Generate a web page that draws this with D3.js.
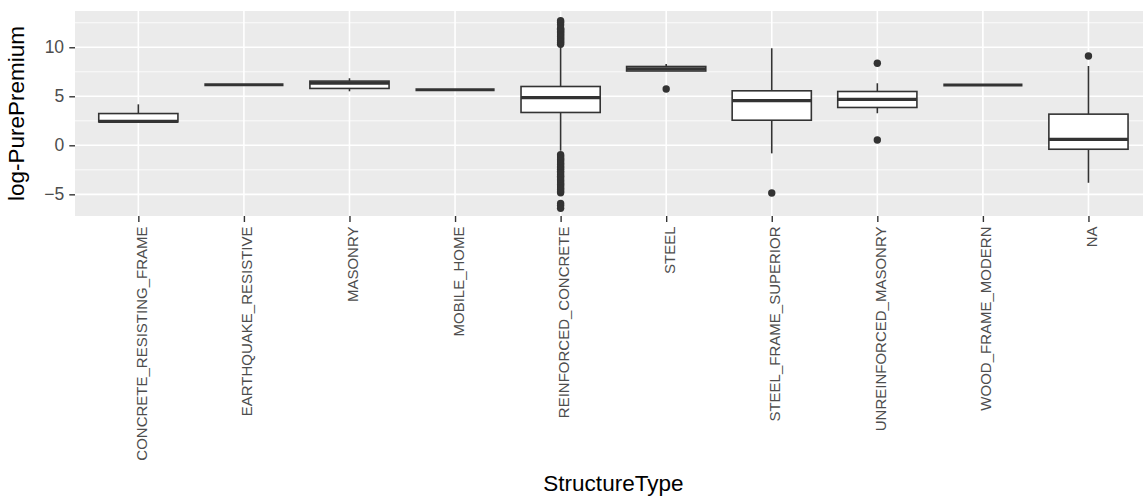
<!DOCTYPE html>
<html>
<head>
<meta charset="utf-8">
<script src="https://cdn.jsdelivr.net/npm/d3@7"></script>
<style>
  html, body { margin: 0; padding: 0; background: #ffffff; }
  svg { display: block; font-family: "Liberation Sans", Arial, sans-serif; }
</style>
</head>
<body>
<svg id="chart" width="1143" height="496"></svg>
<script>
// Structure types on the x axis
const categories = [
  "CONCRETE_RESISTING_FRAME", "EARTHQUAKE_RESISTIVE", "MASONRY", "MOBILE_HOME",
  "REINFORCED_CONCRETE", "STEEL", "STEEL_FRAME_SUPERIOR", "UNREINFORCED_MASONRY",
  "WOOD_FRAME_MODERN", "NA"
];

// Five-number summaries of log-PurePremium per structure type
const whiskerLow  = [2.39, 6.18, 5.51, 5.67, -0.55, 7.58, -0.82, 3.27, 6.15, -3.82];
const lowerQ      = [2.39, 6.18, 5.80, 5.67,  3.35, 7.58,  2.56, 3.86, 6.15, -0.40];
const medianVal   = [2.45, 6.18, 6.35, 5.67,  4.86, 7.80,  4.55, 4.69, 6.15,  0.61];
const upperQ      = [3.24, 6.18, 6.55, 5.67,  6.00, 8.04,  5.56, 5.49, 6.15,  3.18];
const whiskerHigh = [4.18, 6.18, 6.84, 5.67, 10.00, 8.30,  9.90, 6.33, 6.15,  8.09];

// Points beyond the whiskers
const outliers = [
  [],
  [],
  [],
  [],
  [10.30, 10.45, 10.55, 10.70, 10.85, 10.95, 11.10, 11.25, 11.35, 11.50, 11.62,
   11.75, 11.85, 11.95, 12.30, 12.55, 12.70,
   -0.95, -1.10, -1.30, -1.45, -1.60, -1.80, -1.95, -2.15, -2.30, -2.45, -2.65,
   -2.80, -3.00, -3.15, -3.30, -3.50, -3.65, -3.85, -4.00, -4.15, -4.35, -4.50,
   -4.70, -4.85, -5.93, -6.15, -6.43],
  [5.74],
  [-4.86],
  [8.37, 0.54],
  [],
  [9.11]
];

const yTicks = [-5, 0, 5, 10];
const yMinor = [-2.5, 2.5, 7.5, 12.5];

const svg = d3.select("#chart");

// Plotting panel
const panel = { left: 75, top: 11, right: 1151.8, bottom: 216 };

const x = d3.scalePoint()
  .domain(categories)
  .range([panel.left, panel.right])
  .padding(0.6);

const y = d3.scaleLinear()
  .domain([-7.21, 13.70])
  .range([panel.bottom, panel.top]);

const boxW = x.step() * 0.75;
const ink = "#333333";

// Panel background
svg.append("rect")
  .attr("x", panel.left).attr("y", panel.top)
  .attr("width", panel.right - panel.left)
  .attr("height", panel.bottom - panel.top)
  .attr("fill", "#EBEBEB");

const grid = svg.append("g");
grid.selectAll("line.minor").data(yMinor).join("line")
  .attr("class", "minor")
  .attr("x1", panel.left).attr("x2", panel.right)
  .attr("y1", d => y(d)).attr("y2", d => y(d))
  .attr("stroke", "#ffffff").attr("stroke-width", 0.8);
grid.selectAll("line.major-y").data(yTicks).join("line")
  .attr("class", "major-y")
  .attr("x1", panel.left).attr("x2", panel.right)
  .attr("y1", d => y(d)).attr("y2", d => y(d))
  .attr("stroke", "#ffffff").attr("stroke-width", 1.6);
grid.selectAll("line.major-x").data(categories).join("line")
  .attr("class", "major-x")
  .attr("x1", d => x(d)).attr("x2", d => x(d))
  .attr("y1", panel.top).attr("y2", panel.bottom)
  .attr("stroke", "#ffffff").attr("stroke-width", 1.6);

// Box plots
const boxes = svg.append("g").selectAll("g.box")
  .data(categories.map((c, i) => ({
    cat: c, lo: whiskerLow[i], q1: lowerQ[i], med: medianVal[i],
    q3: upperQ[i], hi: whiskerHigh[i], out: outliers[i]
  })))
  .join("g").attr("class", "box");

boxes.append("line")
  .attr("x1", d => x(d.cat)).attr("x2", d => x(d.cat))
  .attr("y1", d => y(d.q3)).attr("y2", d => y(d.hi))
  .attr("stroke", ink).attr("stroke-width", 1.6);
boxes.append("line")
  .attr("x1", d => x(d.cat)).attr("x2", d => x(d.cat))
  .attr("y1", d => y(d.q1)).attr("y2", d => y(d.lo))
  .attr("stroke", ink).attr("stroke-width", 1.6);
boxes.append("rect")
  .attr("x", d => x(d.cat) - boxW / 2)
  .attr("width", boxW)
  .attr("y", d => y(d.q3))
  .attr("height", d => Math.max(0, y(d.q1) - y(d.q3)))
  .attr("fill", "#ffffff")
  .attr("stroke", ink).attr("stroke-width", 1.6);
boxes.append("line")
  .attr("x1", d => x(d.cat) - boxW / 2).attr("x2", d => x(d.cat) + boxW / 2)
  .attr("y1", d => y(d.med)).attr("y2", d => y(d.med))
  .attr("stroke", ink).attr("stroke-width", 3.2);
boxes.selectAll("circle")
  .data(d => d.out.map(v => ({ cat: d.cat, v })))
  .join("circle")
  .attr("cx", d => x(d.cat))
  .attr("cy", d => y(d.v))
  .attr("r", 3.7)
  .attr("fill", ink);

// Y axis
const yAxis = svg.append("g")
  .attr("transform", `translate(${panel.left},0)`)
  .call(d3.axisLeft(y).tickValues(yTicks).tickSize(5.7).tickPadding(5.2));
yAxis.select(".domain").remove();
yAxis.selectAll(".tick line").attr("stroke", ink).attr("stroke-width", 1.4);
yAxis.selectAll(".tick text")
  .attr("fill", "#4D4D4D")
  .style("font-size", "17.5px")
  .style("font-family", "'Liberation Sans', Arial, sans-serif");

// X axis with vertical labels
const xAxis = svg.append("g")
  .attr("transform", `translate(0,${panel.bottom})`)
  .call(d3.axisBottom(x).tickSize(6).tickPadding(0));
xAxis.select(".domain").remove();
xAxis.selectAll(".tick line").attr("stroke", ink).attr("stroke-width", 1.4);
xAxis.selectAll(".tick text")
  .attr("fill", "#4D4D4D")
  .attr("y", 0).attr("dy", null)
  .attr("transform", "translate(8,10.5) rotate(-90)")
  .attr("text-anchor", "end")
  .style("font-size", "15px")
  .style("font-family", "'Liberation Sans', Arial, sans-serif");

// Axis titles
svg.append("text")
  .attr("transform", `translate(23.6,${(panel.top + panel.bottom) / 2}) rotate(-90)`)
  .attr("text-anchor", "middle")
  .attr("fill", "#000000")
  .style("font-size", "22.5px")
  .text("log-PurePremium");

svg.append("text")
  .attr("x", (panel.left + panel.right) / 2)
  .attr("y", 490.5)
  .attr("text-anchor", "middle")
  .attr("fill", "#000000")
  .style("font-size", "22.5px")
  .text("StructureType");
</script>
</body>
</html>
